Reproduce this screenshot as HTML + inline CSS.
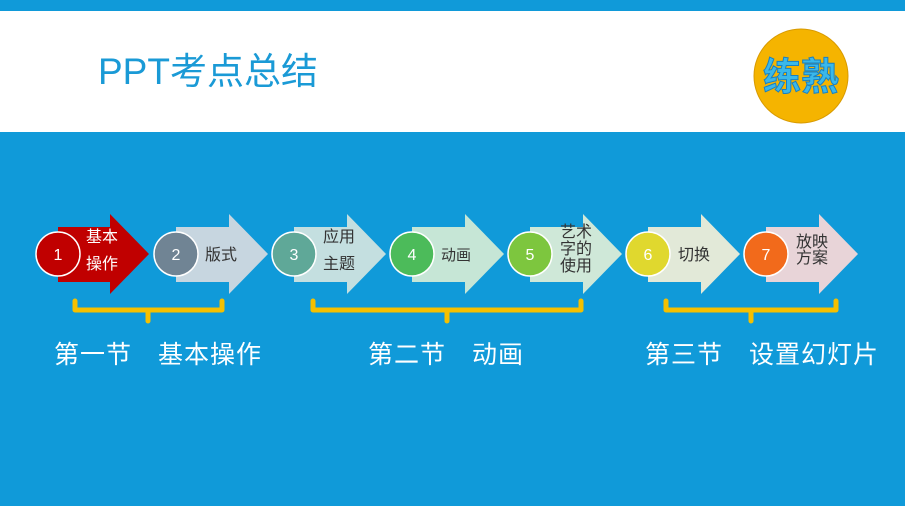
<!DOCTYPE html>
<html><head><meta charset="utf-8"><style>
body{margin:0;width:905px;height:506px;overflow:hidden;background:#109ad9;font-family:"Liberation Sans","Noto Sans CJK SC",sans-serif;position:relative}
.white{position:absolute;left:0;top:11px;width:905px;height:121px;background:#fff}
.title{position:absolute;left:98px;top:48px;font-size:37px;color:#1a9ad6;line-height:48px;white-space:nowrap}
.lbl{position:absolute;top:338px;font-size:25px;letter-spacing:1px;color:#fff;white-space:pre;line-height:34px}
</style></head><body>
<div class="white"></div>
<div class="title">PPT考点总结</div>
<svg width="905" height="506" style="position:absolute;left:0;top:0">
<circle cx="801" cy="76" r="47" fill="#f5b400" stroke="#d89a00" stroke-width="1"/>
<text x="801" y="90" font-size="38" font-weight="bold" text-anchor="middle" fill="#3ab8ea" stroke="#1a80c0" stroke-width="1" font-family="Noto Sans CJK SC,sans-serif">练熟</text>
<g fill="none" stroke="#f5c000" stroke-width="5" stroke-linejoin="round" stroke-linecap="round">
<path d="M75 301 V310 H222 V301 M148 310 V321"/>
<path d="M313 301 V310 H581 V301 M447 310 V321"/>
<path d="M666 301 V310 H836 V301 M751 310 V321"/>
</g>
</svg>
<svg width="905" height="506" style="position:absolute;left:0;top:0" font-family="Liberation Sans,Noto Sans CJK SC,sans-serif">
<polygon points="58,227 110,227 110,214 149,254 110,294 110,282 58,282" fill="#c00000"/>
<polygon points="176,227 229,227 229,214 268,254 229,294 229,282 176,282" fill="#c7d6e0"/>
<polygon points="294,227 347,227 347,214 386,254 347,294 347,282 294,282" fill="#c4dfe0"/>
<polygon points="412,227 465,227 465,214 504,254 465,294 465,282 412,282" fill="#c6e6d6"/>
<polygon points="530,227 583,227 583,214 622,254 583,294 583,282 530,282" fill="#cfe8d8"/>
<polygon points="648,227 701,227 701,214 740,254 701,294 701,282 648,282" fill="#e2e9d8"/>
<polygon points="766,227 819,227 819,214 858,254 819,294 819,282 766,282" fill="#e8d4d8"/>
<g stroke="#fff" stroke-width="1.5">
<circle cx="58" cy="254" r="22" fill="#c00000"/>
<circle cx="176" cy="254" r="22" fill="#708494"/>
<circle cx="294" cy="254" r="22" fill="#5fa898"/>
<circle cx="412" cy="254" r="22" fill="#4cbb5a"/>
<circle cx="530" cy="254" r="22" fill="#7dc63e"/>
<circle cx="648" cy="254" r="22" fill="#e0d82e"/>
<circle cx="766" cy="254" r="22" fill="#f26a1b"/>
</g>
<g fill="#fff" font-size="16" text-anchor="middle">
<text x="58" y="260">1</text><text x="176" y="260">2</text><text x="294" y="260">3</text><text x="412" y="260">4</text><text x="530" y="260">5</text><text x="648" y="260">6</text><text x="766" y="260">7</text>
</g>
<g font-size="16" fill="#333">
<text x="86" y="242" fill="#fff">基本</text><text x="86" y="269" fill="#fff">操作</text>
<text x="205" y="260">版式</text>
<text x="323" y="242">应用</text><text x="323" y="269">主题</text>
<text x="441" y="260" font-size="15">动画</text>
<text x="560" y="237">艺术</text><text x="560" y="254">字的</text><text x="560" y="271">使用</text>
<text x="678" y="260">切换</text>
<text x="796" y="247">放映</text><text x="796" y="263">方案</text>
</g>
</svg>
<div class="lbl" style="left:54px">第一节　基本操作</div>
<div class="lbl" style="left:368px">第二节　动画</div>
<div class="lbl" style="left:645px">第三节　设置幻灯片</div>
</body></html>
